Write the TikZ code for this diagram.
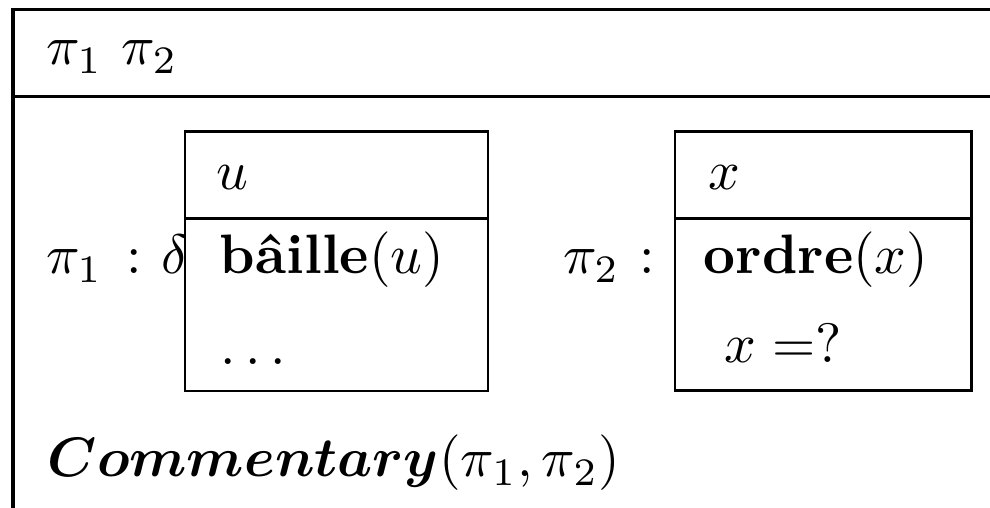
\documentclass[tikz,border=0pt]{standalone}
\usepackage{fontspec}
\usepackage{bm}
\begin{document}
\begin{tikzpicture}[x=0.18pt,y=-0.18pt,
  outerline/.style={line width=0.7pt},
  innerline/.style={line width=0.5pt},
  txt/.style={anchor=base west,inner sep=0pt,outer sep=0pt}]
\useasboundingbox (0,0) rectangle (990,508);
% outer frame
\coordinate (otr) at (1000,9.5);
\coordinate (otl) at (13,9.5);
\coordinate (obl) at (13,520);
\coordinate (osl) at (13,96.5);
\coordinate (osr) at (1000,96.5);
\draw[outerline] (otr) -- (otl) -- (obl);
\draw[outerline] (osl) -- (osr);
% box 1
\coordinate (b1tl) at (185,131.5);
\coordinate (b1br) at (488,391);
\coordinate (b1sl) at (185,218.5);
\coordinate (b1sr) at (488,218.5);
\draw[innerline] (b1tl) rectangle (b1br);
\draw[innerline] (b1sl) -- (b1sr);
% box 2
\coordinate (b2tl) at (675,131.5);
\coordinate (b2br) at (971.5,390.5);
\coordinate (b2sl) at (675,218.5);
\coordinate (b2sr) at (971.5,218.5);
\draw[innerline] (b2tl) rectangle (b2br);
\draw[innerline] (b2sl) -- (b2sr);
% texts
\node[txt] (title) at (46,65) {$\pi_1$ $\pi_2$};
\node[txt] (lab1) at (46,274) {$\pi_1$\hspace{4.3pt}:\hspace{3.6pt}$\delta$};
\node[txt] (u) at (216,190) {$u$};
\node[txt] (baille) at (220,274) {\textbf{bâille}$(u)$};
\node[txt] (dots) at (221,365) {$\ldots$};
\node[txt] (lab2) at (563,274) {$\pi_2$\hspace{3.6pt}:};
\node[txt] (x) at (709,190) {$x$};
\node[txt] (ordre) at (704,274) {\textbf{ordre}$(x)$};
\node[txt] (xq) at (725,363) {$x=$?};
\node[txt] (comm) at (48,477) {$\bm{Commentary}(\pi_1,\pi_2)$};
\end{tikzpicture}
\end{document}
